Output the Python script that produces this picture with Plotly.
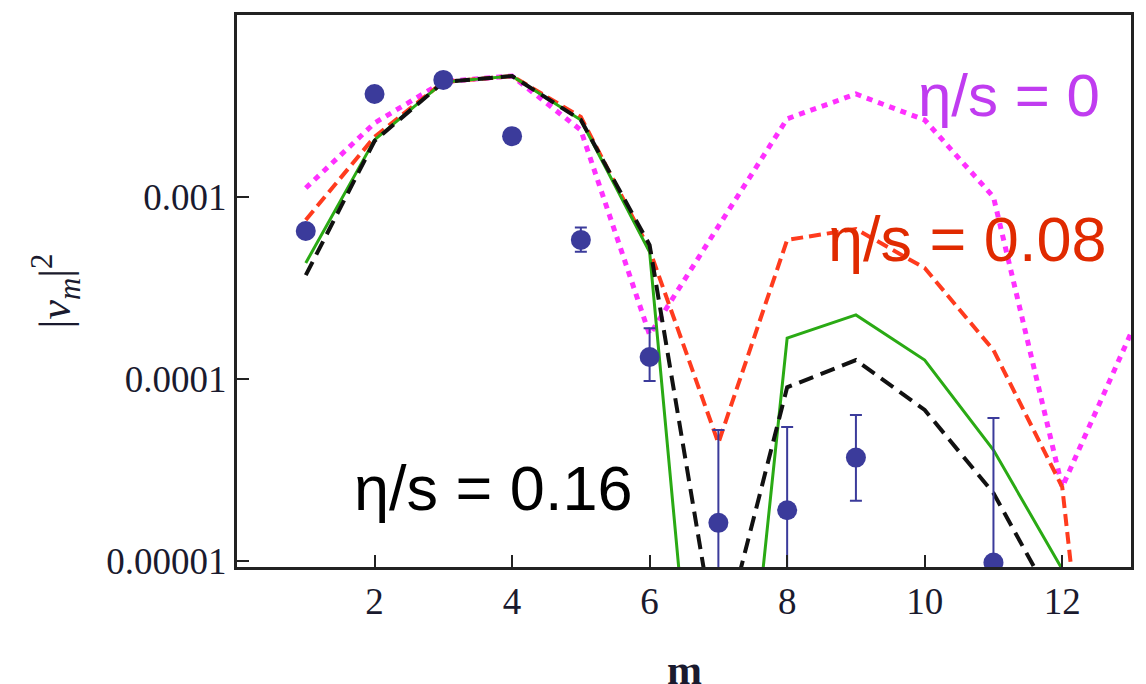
import plotly.graph_objects as go

# harmonic order m
m = [1, 2, 3, 4, 5, 6, 7, 8, 9, 10, 11, 12, 13]

# model curves |v_m|^2
eta_0 = [1.12e-3, 2.55e-3, 4.3e-3, 4.62e-3, 2.33e-3, 1.75e-4, 6.9e-4,
         2.69e-3, 3.68e-3, 2.65e-3, 1.0e-3, 2.55e-5, 1.79e-4]
eta_008 = [7.48e-4, 2.14e-3, 4.28e-3, 4.62e-3, 2.75e-3, 5.12e-4, 4.45e-5,
           5.81e-4, 6.67e-4, 4.07e-4, 1.44e-4, 2.55e-5, 1e-8]
eta_016_solid = [4.34e-4, 2.06e-3, 4.28e-3, 4.62e-3, 2.65e-3, 4.98e-4, 4e-8,
                 1.68e-4, 2.25e-4, 1.27e-4, 4.07e-5, 9e-6, 1e-6]
eta_016_dashed = [3.72e-4, 2.03e-3, 4.28e-3, 4.62e-3, 2.65e-3, 5.44e-4, 3e-6,
                  9.0e-5, 1.27e-4, 6.76e-5, 2.36e-5, 5e-6, 1e-6]

# measured points with error bar ends
data_m = [1, 2, 3, 4, 5, 6, 7, 8, 9, 11]
data_v = [6.5e-4, 3.68e-3, 4.4e-3, 2.16e-3, 5.81e-4, 1.32e-4, 1.62e-5,
          1.9e-5, 3.7e-5, 9.8e-6]
data_hi = [6.5e-4, 3.68e-3, 4.4e-3, 2.16e-3, 6.8e-4, 1.9e-4, 5.25e-5,
           5.45e-5, 6.34e-5, 6.1e-5]
data_lo = [6.5e-4, 3.68e-3, 4.4e-3, 2.16e-3, 5.0e-4, 9.75e-5, 3e-6,
           3e-6, 2.14e-5, 2e-6]

tick_vals = [1e-5, 1e-4, 1e-3]
tick_text = ["0.00001", "0.0001", "0.001"]

fig = go.Figure()
fig.add_trace(go.Scatter(x=m, y=eta_0, mode="lines",
                         line=dict(color="#ff30ff", width=5, dash="6px,6px")))
fig.add_trace(go.Scatter(x=m, y=eta_008, mode="lines",
                         line=dict(color="#ff3b1e", width=4, dash="12px,6px")))
fig.add_trace(go.Scatter(x=m, y=eta_016_solid, mode="lines",
                         line=dict(color="#2aaa14", width=3)))
fig.add_trace(go.Scatter(x=m, y=eta_016_dashed, mode="lines",
                         line=dict(color="#111111", width=4, dash="15px,8px")))
fig.add_trace(go.Scatter(
    x=data_m, y=data_v, mode="markers",
    marker=dict(color="#3b3b9b", size=20),
    error_y=dict(type="data", symmetric=False,
                 array=[h - v for h, v in zip(data_hi, data_v)],
                 arrayminus=[v - l for v, l in zip(data_v, data_lo)],
                 color="#3b3b9b", thickness=2, width=6),
))

label_font = "Liberation Sans, Arial, sans-serif"
fig.add_annotation(text="η/s = 0", xref="paper", yref="paper", x=0.9676, y=0.855,
                   xanchor="right", yanchor="middle", showarrow=False,
                   font=dict(family=label_font, size=60, color="#c03cf0"))
fig.add_annotation(text="η/s = 0.08", xref="paper", yref="paper", x=0.9743, y=0.595,
                   xanchor="right", yanchor="middle", showarrow=False,
                   font=dict(family=label_font, size=63, color="#e02a00"))
fig.add_annotation(text="η/s = 0.16", xref="paper", yref="paper", x=0.1286, y=0.143,
                   xanchor="left", yanchor="middle", showarrow=False,
                   font=dict(family=label_font, size=63, color="#000000"))

serif = "Liberation Serif, Times New Roman, serif"
# x-axis title sits low and is partly cut by the bottom edge, as in the source
fig.add_annotation(text="<b>m</b>", xref="paper", yref="paper", x=0.5, y=-0.141,
                   xanchor="center", yanchor="top", showarrow=False,
                   font=dict(family=serif, size=42, color="#1a1a2e"))

# page body has an 8px margin, so the figure is shrunk and shifted to match
fig.update_layout(
    width=1138, height=676,
    margin=dict(l=229, r=15, t=7, b=117),
    paper_bgcolor="white", plot_bgcolor="white",
    showlegend=False,
    font=dict(family=serif, color="#1a1a2e"),
    xaxis=dict(
        range=[0, 13], tickvals=[2, 4, 6, 8, 10, 12],
        ticks="inside", ticklen=12, tickwidth=2, tickcolor="#222",
        showline=True, linewidth=3, linecolor="#222", mirror=True,
        showgrid=False, zeroline=False, automargin=False,
        tickfont=dict(size=37),
    ),
    yaxis=dict(
        type="log", range=[-5.033, -2.0],
        tickvals=tick_vals, ticktext=tick_text,
        ticks="inside", ticklen=12, tickwidth=2, tickcolor="#222",
        showline=True, linewidth=3, linecolor="#222", mirror=True,
        showgrid=False, zeroline=False, automargin=False,
        tickfont=dict(size=37),
        title=dict(text="|<i>v<sub>m</sub></i>|<sup>2</sup>", font=dict(size=44), standoff=22),
    ),
)

fig.write_html("out.html")
